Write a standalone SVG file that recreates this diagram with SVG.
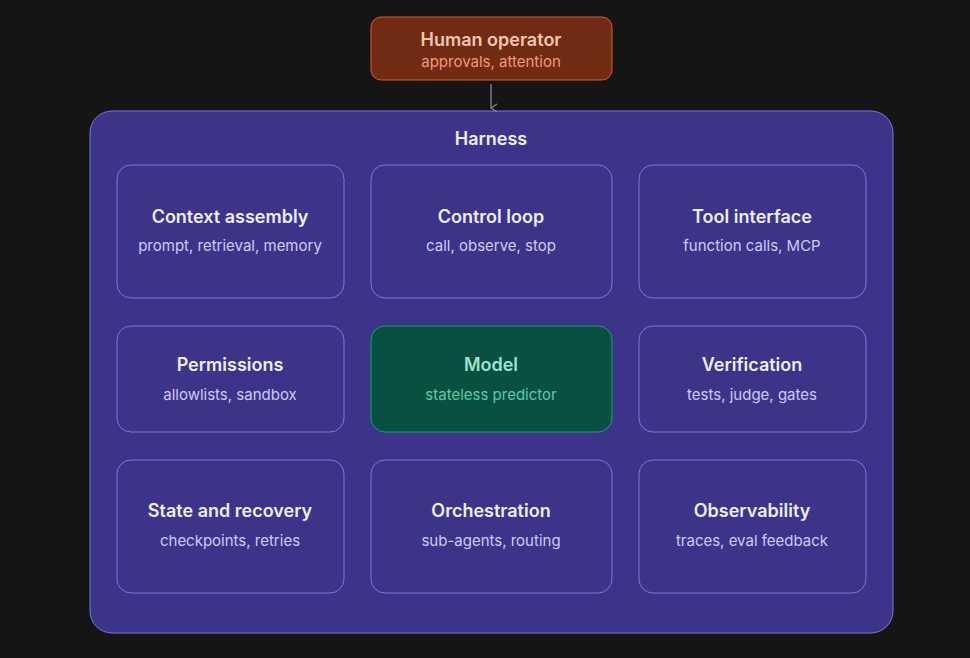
<svg xmlns="http://www.w3.org/2000/svg" width="970" height="658" viewBox="0 0 970 658">
<defs>
<marker id="ah" viewBox="0 0 10 10" refX="5" refY="9" markerWidth="10" markerHeight="10" orient="auto-start-reverse" markerUnits="userSpaceOnUse">
<path d="M1 3 L5 9 L9 3" fill="none" stroke="#8a8a96" stroke-width="1.3"/>
</marker>
<style>
text{font-family:Inter,"Noto Sans",sans-serif;text-anchor:middle}
.b{fill:#3c3489;stroke:#7f77dd;stroke-width:1}
.t{font-size:18px;font-weight:600;fill:#eeedfe}
.s{font-size:15px;fill:#cecbf6}
</style>
</defs>
<rect width="970" height="658" fill="#151515"/>
<g id="harness">
<rect x="90" y="111" width="803" height="522" rx="22" fill="#3c3489" stroke="#7f77dd"/>
<text x="491" y="145" class="t">Harness</text>
</g>
<g id="human">
<rect x="371" y="17" width="241" height="63" rx="10" fill="#712b13" stroke="#d85a30"/>
<text x="491" y="46" class="t" style="fill:#f5c4b3">Human operator</text>
<text x="491" y="67" class="s" style="fill:#f0997b">approvals, attention</text>
</g>
<g id="connectors">
<line x1="491" y1="84" x2="491" y2="108" stroke="#8a8a96" stroke-width="1.3" marker-end="url(#ah)"/>
</g>
<g id="context"><rect class="b" x="117" y="165" width="227" height="133" rx="14"/><text class="t" x="230" y="223">Context assembly</text><text class="s" x="230" y="251">prompt, retrieval, memory</text></g>
<g id="control"><rect class="b" x="371" y="165" width="241" height="133" rx="14"/><text class="t" x="491" y="223">Control loop</text><text class="s" x="491" y="251">call, observe, stop</text></g>
<g id="tool"><rect class="b" x="639" y="165" width="227" height="133" rx="14"/><text class="t" x="752" y="223">Tool interface</text><text class="s" x="752" y="251">function calls, MCP</text></g>
<g id="permissions"><rect class="b" x="117" y="326" width="227" height="106" rx="14"/><text class="t" x="230" y="371">Permissions</text><text class="s" x="230" y="400">allowlists, sandbox</text></g>
<g id="model"><rect x="371" y="326" width="241" height="106" rx="14" fill="#085041" stroke="#1d9e75"/><text class="t" x="491" y="371" style="fill:#9fe1cb">Model</text><text class="s" x="491" y="400" style="fill:#5dcaa5">stateless predictor</text></g>
<g id="verification"><rect class="b" x="639" y="326" width="227" height="106" rx="14"/><text class="t" x="752" y="371">Verification</text><text class="s" x="752" y="400">tests, judge, gates</text></g>
<g id="state"><rect class="b" x="117" y="460" width="227" height="133" rx="14"/><text class="t" x="230" y="517">State and recovery</text><text class="s" x="230" y="546">checkpoints, retries</text></g>
<g id="orchestration"><rect class="b" x="371" y="460" width="241" height="133" rx="14"/><text class="t" x="491" y="517">Orchestration</text><text class="s" x="491" y="546">sub-agents, routing</text></g>
<g id="observability"><rect class="b" x="639" y="460" width="227" height="133" rx="14"/><text class="t" x="752" y="517">Observability</text><text class="s" x="752" y="546">traces, eval feedback</text></g>
</svg>
